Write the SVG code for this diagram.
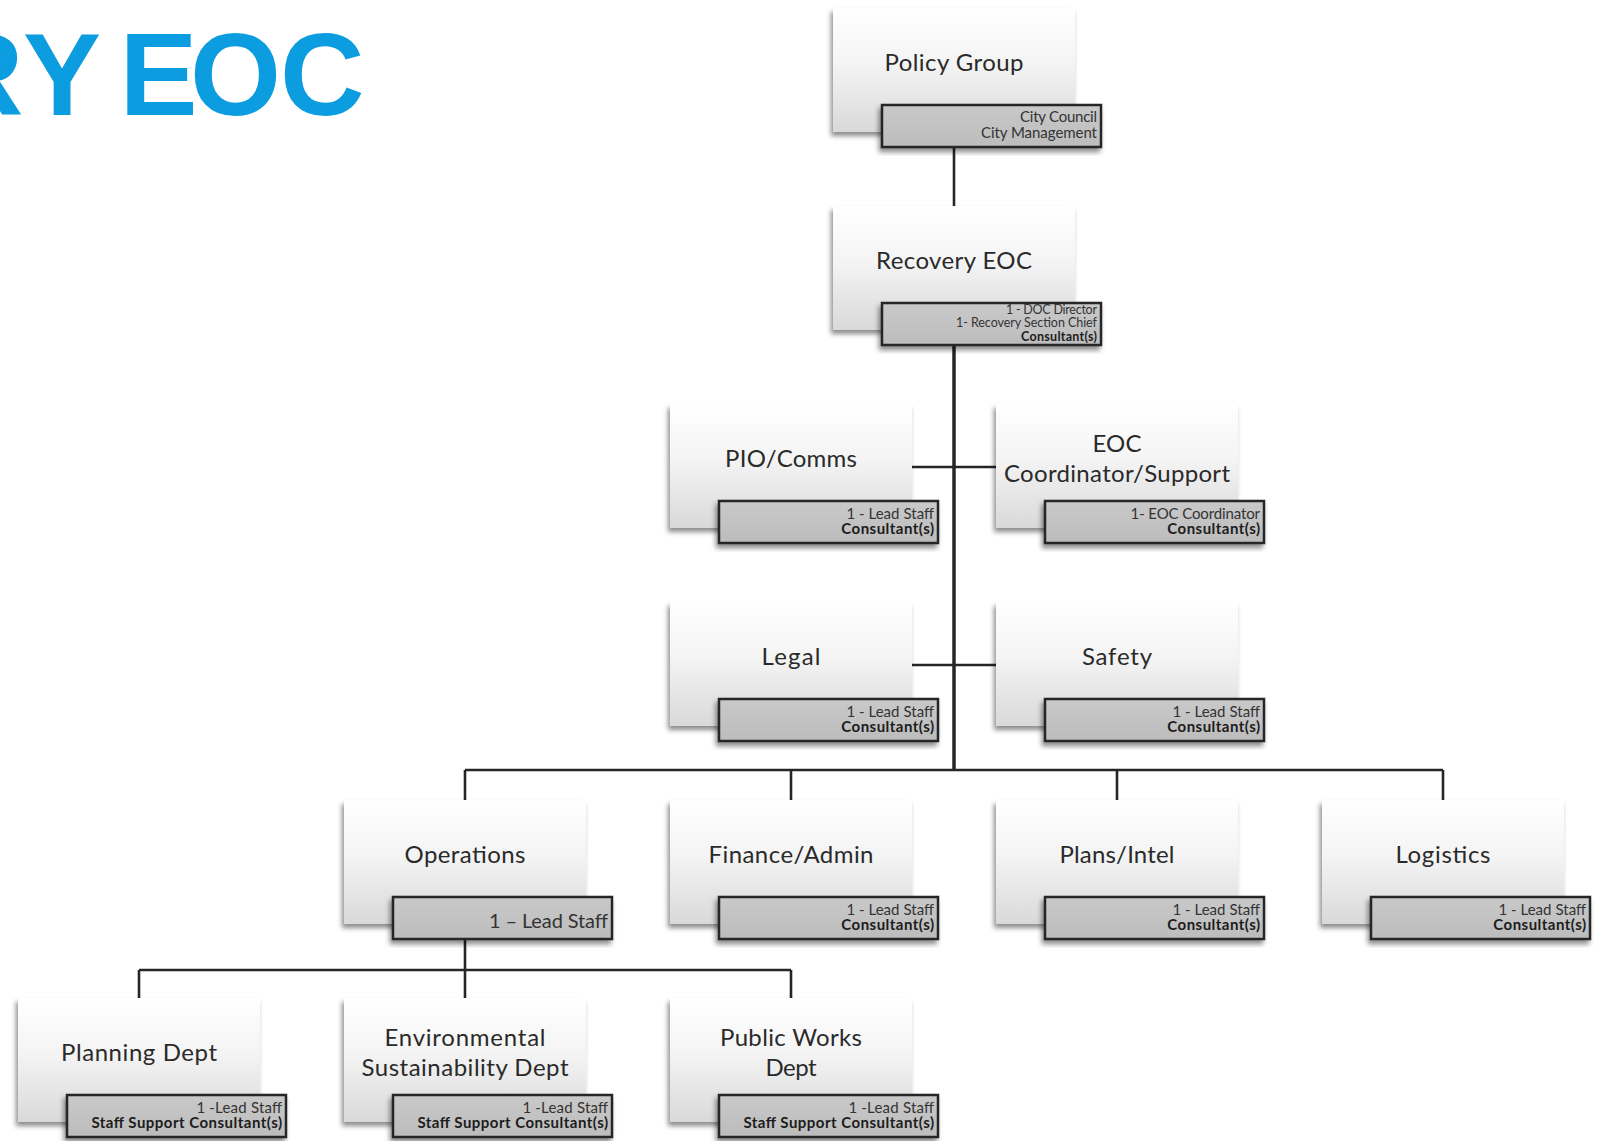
<svg xmlns="http://www.w3.org/2000/svg" width="1598" height="1141" viewBox="0 0 1598 1141">
<defs>
<linearGradient id="gMain" x1="0" y1="0" x2="0" y2="1">
<stop offset="0" stop-color="#ffffff"/>
<stop offset="0.45" stop-color="#f4f4f4"/>
<stop offset="1" stop-color="#d9d9d9"/>
</linearGradient>
<linearGradient id="gLab" x1="0" y1="0" x2="0" y2="1">
<stop offset="0" stop-color="#c9c9c9"/>
<stop offset="1" stop-color="#bcbcbc"/>
</linearGradient>
<filter id="sh" x="-10%" y="-10%" width="120%" height="130%">
<feDropShadow dx="-2" dy="4" stdDeviation="2.5" flood-color="#000" flood-opacity="0.45"/>
</filter>
</defs>
<style>
.box{fill:url(#gMain);filter:url(#sh)}
.lab{fill:url(#gLab);stroke:#262626;stroke-width:2.5;filter:url(#sh)}
.t{font-family:Lato,"Open Sans",sans-serif;font-size:24px;fill:#2a2a2a;text-anchor:middle}
.s{font-family:Lato,"Open Sans",sans-serif;font-size:15px;fill:#333;text-anchor:end}
.sm{font-size:12.5px}
.b{font-weight:bold;fill:#1c1c1c}
.c{fill:none;stroke:#262626;stroke-width:2.6}
.tk{stroke-width:3.5}
</style>
<rect width="1598" height="1141" fill="#fff"/>
<text x="-61 23 100 119.5 190 280" y="115" font-family="Liberation Sans,Arial,sans-serif" font-weight="bold" font-size="117" fill="#0b9ddf">RY EOC</text>
<g id="connectors">
<path class="c" d="M954,147V206"/>
<path class="c tk" d="M954,345V770"/>
<path class="c" d="M912,467H996M912,665H996"/>
<path class="c" d="M465,770H1443M465,770V800M791,770V800M1117,770V800M1443,770V800"/>
<path class="c" d="M465,939V970M139,970H791M139,970V998M465,970V998M791,970V998"/>
</g>
<g id="policy-group">
<rect class="box" x="833" y="8" width="242" height="124"/>
<text class="t" x="954" y="71" textLength="139">Policy Group</text>
<rect class="lab" x="882" y="105" width="219" height="42"/>
<text class="s" x="1097" y="122" textLength="77">City Council</text>
<text class="s" x="1097" y="137.5" textLength="116">City Management</text>
</g>
<g id="recovery-eoc">
<rect class="box" x="833" y="206" width="242" height="124"/>
<text class="t" x="954" y="269" textLength="156">Recovery EOC</text>
<rect class="lab" x="882" y="303" width="219" height="42"/>
<text class="s sm" x="1097" y="313.5" textLength="91">1 - DOC Director</text>
<text class="s sm" x="1097" y="327" textLength="141">1- Recovery Section Chief</text>
<text class="s sm b" x="1097" y="340.5" textLength="76">Consultant(s)</text>
</g>
<g id="pio-comms">
<rect class="box" x="670" y="404" width="242" height="124"/>
<text class="t" x="791" y="467" textLength="132">PIO/Comms</text>
<rect class="lab" x="719" y="501" width="219" height="42"/>
<text class="s" x="934" y="518.5" textLength="87.6">1 - Lead Staff</text>
<text class="s b" x="934" y="534" textLength="92.7">Consultant(s)</text>
</g>
<g id="eoc-coordinator">
<rect class="box" x="996" y="404" width="242" height="124"/>
<text class="t" x="1117" y="451.5" textLength="49">EOC</text>
<text class="t" x="1117" y="482" textLength="226">Coordinator/Support</text>
<rect class="lab" x="1045" y="501" width="219" height="42"/>
<text class="s" x="1260" y="518.5" textLength="129.4">1- EOC Coordinator</text>
<text class="s b" x="1260" y="534" textLength="92.7">Consultant(s)</text>
</g>
<g id="legal">
<rect class="box" x="670" y="602" width="242" height="124"/>
<text class="t" x="791" y="665" textLength="59">Legal</text>
<rect class="lab" x="719" y="699" width="219" height="42"/>
<text class="s" x="934" y="716.5" textLength="87.6">1 - Lead Staff</text>
<text class="s b" x="934" y="732" textLength="92.7">Consultant(s)</text>
</g>
<g id="safety">
<rect class="box" x="996" y="602" width="242" height="124"/>
<text class="t" x="1117" y="665" textLength="70">Safety</text>
<rect class="lab" x="1045" y="699" width="219" height="42"/>
<text class="s" x="1260" y="716.5" textLength="87.6">1 - Lead Staff</text>
<text class="s b" x="1260" y="732" textLength="92.7">Consultant(s)</text>
</g>
<g id="operations">
<rect class="box" x="344" y="800" width="242" height="124"/>
<text class="t" x="465" y="863" textLength="121">Operations</text>
<rect class="lab" x="393" y="897" width="219" height="42"/>
<text class="s" x="608" y="927.5" font-size="20" style="font-size:20px" textLength="119">1 – Lead Staff</text>
</g>
<g id="finance-admin">
<rect class="box" x="670" y="800" width="242" height="124"/>
<text class="t" x="791" y="863" textLength="165">Finance/Admin</text>
<rect class="lab" x="719" y="897" width="219" height="42"/>
<text class="s" x="934" y="914.5" textLength="87.6">1 - Lead Staff</text>
<text class="s b" x="934" y="930" textLength="92.7">Consultant(s)</text>
</g>
<g id="plans-intel">
<rect class="box" x="996" y="800" width="242" height="124"/>
<text class="t" x="1117" y="863" textLength="115">Plans/Intel</text>
<rect class="lab" x="1045" y="897" width="219" height="42"/>
<text class="s" x="1260" y="914.5" textLength="87.6">1 - Lead Staff</text>
<text class="s b" x="1260" y="930" textLength="92.7">Consultant(s)</text>
</g>
<g id="logistics">
<rect class="box" x="1322" y="800" width="242" height="124"/>
<text class="t" x="1443" y="863" textLength="95">Logistics</text>
<rect class="lab" x="1371" y="897" width="219" height="42"/>
<text class="s" x="1586" y="914.5" textLength="87.6">1 - Lead Staff</text>
<text class="s b" x="1586" y="930" textLength="92.7">Consultant(s)</text>
</g>
<g id="planning-dept">
<rect class="box" x="18" y="998" width="242" height="124"/>
<text class="t" x="139" y="1061" textLength="156">Planning Dept</text>
<rect class="lab" x="67" y="1095" width="219" height="42"/>
<text class="s" x="282" y="1112.5" textLength="85.6">1 -Lead Staff</text>
<text class="s b" x="282" y="1128" textLength="190.6">Staff Support Consultant(s)</text>
</g>
<g id="environmental-sustainability-dept">
<rect class="box" x="344" y="998" width="242" height="124"/>
<text class="t" x="465" y="1045.5" textLength="161">Environmental</text>
<text class="t" x="465" y="1075.5" textLength="207">Sustainability Dept</text>
<rect class="lab" x="393" y="1095" width="219" height="42"/>
<text class="s" x="608" y="1112.5" textLength="85.6">1 -Lead Staff</text>
<text class="s b" x="608" y="1128" textLength="190.6">Staff Support Consultant(s)</text>
</g>
<g id="public-works-dept">
<rect class="box" x="670" y="998" width="242" height="124"/>
<text class="t" x="791" y="1045.5" textLength="142">Public Works</text>
<text class="t" x="791" y="1075.5" textLength="51">Dept</text>
<rect class="lab" x="719" y="1095" width="219" height="42"/>
<text class="s" x="934" y="1112.5" textLength="85.6">1 -Lead Staff</text>
<text class="s b" x="934" y="1128" textLength="190.6">Staff Support Consultant(s)</text>
</g>
</svg>
